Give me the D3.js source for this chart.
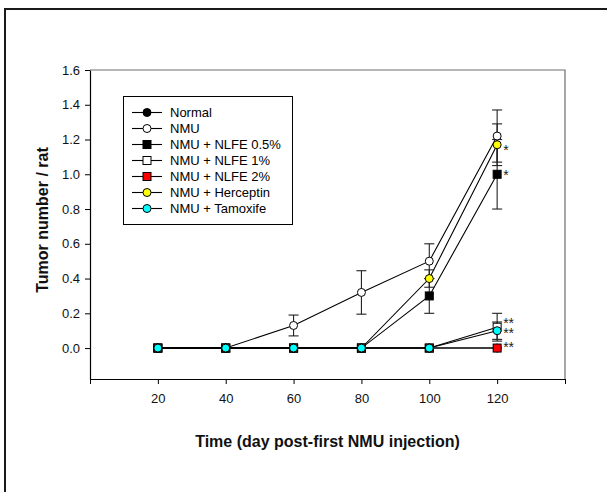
<!DOCTYPE html>
<html>
<head>
<meta charset="utf-8">
<script src="https://cdn.jsdelivr.net/npm/d3@7/dist/d3.min.js"></script>
<style>
  html, body { margin: 0; padding: 0; background: #fff; }
  svg { display: block; font-family: Arial, "Liberation Sans", sans-serif; }
</style>
</head>
<body>
<svg id="chart" width="607" height="492"></svg>
<script>
// Sampling days (x axis)
const days = [20, 40, 60, 80, 100, 120];

// Mean tumor number per rat for each group
const normal      = [0, 0, 0, 0, 0, 0];
const nmu         = [0, 0, 0.13, 0.32, 0.5, 1.22];
const nlfe05      = [0, 0, 0, 0, 0.3, 1.0];
const nlfe1       = [0, 0, 0, 0, 0, 0.12];
const nlfe2       = [0, 0, 0, 0, 0, 0];
const herceptin   = [0, 0, 0, 0, 0.4, 1.17];
const tamoxifen   = [0, 0, 0, 0, 0, 0.1];

// Standard errors
const normalErr    = [0, 0, 0, 0, 0, 0];
const nmuErr       = [0, 0, 0.06, 0.125, 0.1, 0.15];
const nlfe05Err    = [0, 0, 0, 0, 0.1, 0.2];
const nlfe1Err     = [0, 0, 0, 0, 0, 0.08];
const nlfe2Err     = [0, 0, 0, 0, 0, 0];
const herceptinErr = [0, 0, 0, 0, 0.05, 0.12];
const tamoxifenErr = [0, 0, 0, 0, 0, 0.05];

// Group names (legend order)
const groups = ["Normal", "NMU", "NMU + NLFE 0.5%", "NMU + NLFE 1%",
                "NMU + NLFE 2%", "NMU + Herceptin", "NMU + Tamoxife"];

// Axis ticks
const xTicks = [0, 20, 40, 60, 80, 100, 120, 140];
const xTickLabels = ["", "20", "40", "60", "80", "100", "120", ""];
const yTicks = [0, 0.2, 0.4, 0.6, 0.8, 1.0, 1.2, 1.4, 1.6];
const yTickLabels = ["0.0", "0.2", "0.4", "0.6", "0.8", "1.0", "1.2", "1.4", "1.6"];

// Significance marks at day 120
const sigGroups = ["NMU + Herceptin", "NMU + NLFE 0.5%", "NMU + NLFE 1%", "NMU + Tamoxife", "NMU + NLFE 2%"];
const sigLabels = ["*", "*", "**", "**", "**"];

const xTitle = "Time (day post-first NMU injection)";
const yTitle = "Tumor number / rat";

// ---- styling per group ----
const styles = {
  "Normal":          { shape: "circle", fill: "#000000" },
  "NMU":             { shape: "circle", fill: "#ffffff" },
  "NMU + NLFE 0.5%": { shape: "square", fill: "#000000" },
  "NMU + NLFE 1%":   { shape: "square", fill: "#ffffff" },
  "NMU + NLFE 2%":   { shape: "square", fill: "#ff0000" },
  "NMU + Herceptin": { shape: "circle", fill: "#ffff00" },
  "NMU + Tamoxife":  { shape: "circle", fill: "#00ffff" }
};

const valueSets = [normal, nmu, nlfe05, nlfe1, nlfe2, herceptin, tamoxifen];
const errSets = [normalErr, nmuErr, nlfe05Err, nlfe1Err, nlfe2Err, herceptinErr, tamoxifenErr];

const series = groups.map((name, i) => ({
  name,
  style: styles[name],
  points: days.map((d, j) => ({ x: d, y: valueSets[i][j], e: errSets[i][j] }))
}));

const svg = d3.select("#chart");

// outer frame
svg.append("rect")
  .attr("x", 5).attr("y", 9).attr("width", 640).attr("height", 520)
  .attr("fill", "none").attr("stroke", "#1a1a1a").attr("stroke-width", 2);

const plot = { left: 90, right: 565, top: 70, bottom: 379 };

const x = d3.scaleLinear().domain([0, 140]).range([plot.left, plot.right]);
const y = d3.scaleLinear().domain([-0.178, 1.6]).range([plot.bottom, plot.top]);

// top and right frame of the plot area
svg.append("path")
  .attr("d", `M${plot.left},${plot.top}H${plot.right}V${plot.bottom}`)
  .attr("fill", "none").attr("stroke", "#6e6e6e").attr("stroke-width", 1.2);

// x axis
const xAxis = svg.append("g")
  .attr("transform", `translate(0,${plot.bottom})`)
  .call(d3.axisBottom(x).tickValues(xTicks).tickSize(5).tickSizeOuter(0)
        .tickFormat((d, i) => xTickLabels[i]));
xAxis.select(".domain").attr("stroke", "#000").attr("stroke-width", 1.2);
xAxis.selectAll(".tick line").attr("stroke", "#000");
xAxis.selectAll(".tick text")
  .attr("font-size", 13).attr("fill", "#111")
  .attr("font-family", "Arial, 'Liberation Sans', sans-serif")
  .attr("dy", null).attr("y", 24);

// y axis
const yAxis = svg.append("g")
  .attr("transform", `translate(${plot.left},0)`)
  .call(d3.axisLeft(y).tickValues(yTicks).tickSize(5).tickSizeOuter(0)
        .tickFormat((d, i) => yTickLabels[i]));
yAxis.select(".domain").attr("stroke", "#000").attr("stroke-width", 1.2);
yAxis.selectAll(".tick line").attr("stroke", "#000");
yAxis.selectAll(".tick text")
  .attr("font-size", 13).attr("fill", "#111")
  .attr("font-family", "Arial, 'Liberation Sans', sans-serif")
  .attr("x", -10);

// axis titles
svg.append("text")
  .attr("x", (plot.left + plot.right) / 2).attr("y", 447)
  .attr("text-anchor", "middle").attr("font-size", 16).attr("font-weight", "bold")
  .attr("fill", "#111")
  .text(xTitle);

svg.append("text")
  .attr("transform", "translate(48,220) rotate(-90)")
  .attr("text-anchor", "middle").attr("font-size", 16).attr("font-weight", "bold")
  .attr("fill", "#111")
  .text(yTitle);

// connecting lines
const line = d3.line().x(d => x(d.x)).y(d => y(d.y));
series.forEach(s => {
  svg.append("path").datum(s.points)
    .attr("d", line).attr("fill", "none")
    .attr("stroke", "#000").attr("stroke-width", 1.1);
});

// error bars
const capHalf = 5;
series.forEach(s => {
  const g = svg.append("g").attr("stroke", "#222").attr("stroke-width", 1.1);
  s.points.filter(p => p.e > 0).forEach(p => {
    const cx = x(p.x), y1 = y(p.y + p.e), y0 = y(p.y - p.e);
    g.append("line").attr("x1", cx).attr("x2", cx).attr("y1", y1).attr("y2", y0);
    g.append("line").attr("x1", cx - capHalf).attr("x2", cx + capHalf).attr("y1", y1).attr("y2", y1);
    g.append("line").attr("x1", cx - capHalf).attr("x2", cx + capHalf).attr("y1", y0).attr("y2", y0);
  });
});

// marker drawing helper
function marker(sel, style, cx, cy) {
  if (style.shape === "circle") {
    sel.append("circle").attr("cx", cx).attr("cy", cy).attr("r", 4)
      .attr("fill", style.fill).attr("stroke", "#000").attr("stroke-width", 1);
  } else {
    sel.append("rect").attr("x", cx - 4).attr("y", cy - 4).attr("width", 8).attr("height", 8)
      .attr("fill", style.fill).attr("stroke", "#000").attr("stroke-width", 1);
  }
}

series.forEach(s => {
  const g = svg.append("g");
  s.points.forEach(p => marker(g, s.style, x(p.x), y(p.y)));
});

// significance marks next to the day-120 points (one text block, one line per group)
const sigShift = [2, -2, -7, -1, -4];
const sigText = svg.append("text").attr("font-size", 14).attr("fill", "#222");
sigGroups.forEach((name, i) => {
  const s = series.find(d => d.name === name);
  const p = s.points[s.points.length - 1];
  sigText.append("tspan")
    .attr("x", x(p.x) + 6).attr("y", y(p.y) + sigShift[i] + 8)
    .text(sigLabels[i]);
});

// legend
const lg = svg.append("g");
lg.append("rect").attr("x", 123.5).attr("y", 96.5).attr("width", 169).attr("height", 128)
  .attr("fill", "#fff").attr("stroke", "#000").attr("stroke-width", 1);
series.forEach((s, i) => {
  const ry = 112.5 + i * 16;
  lg.append("line").attr("x1", 132).attr("x2", 162).attr("y1", ry).attr("y2", ry)
    .attr("stroke", "#000").attr("stroke-width", 1.1);
  marker(lg, s.style, 147, ry);
  lg.append("text").attr("x", 170).attr("y", ry + 4.6)
    .attr("font-size", 13).attr("fill", "#000").text(s.name);
});
</script>
</body>
</html>
